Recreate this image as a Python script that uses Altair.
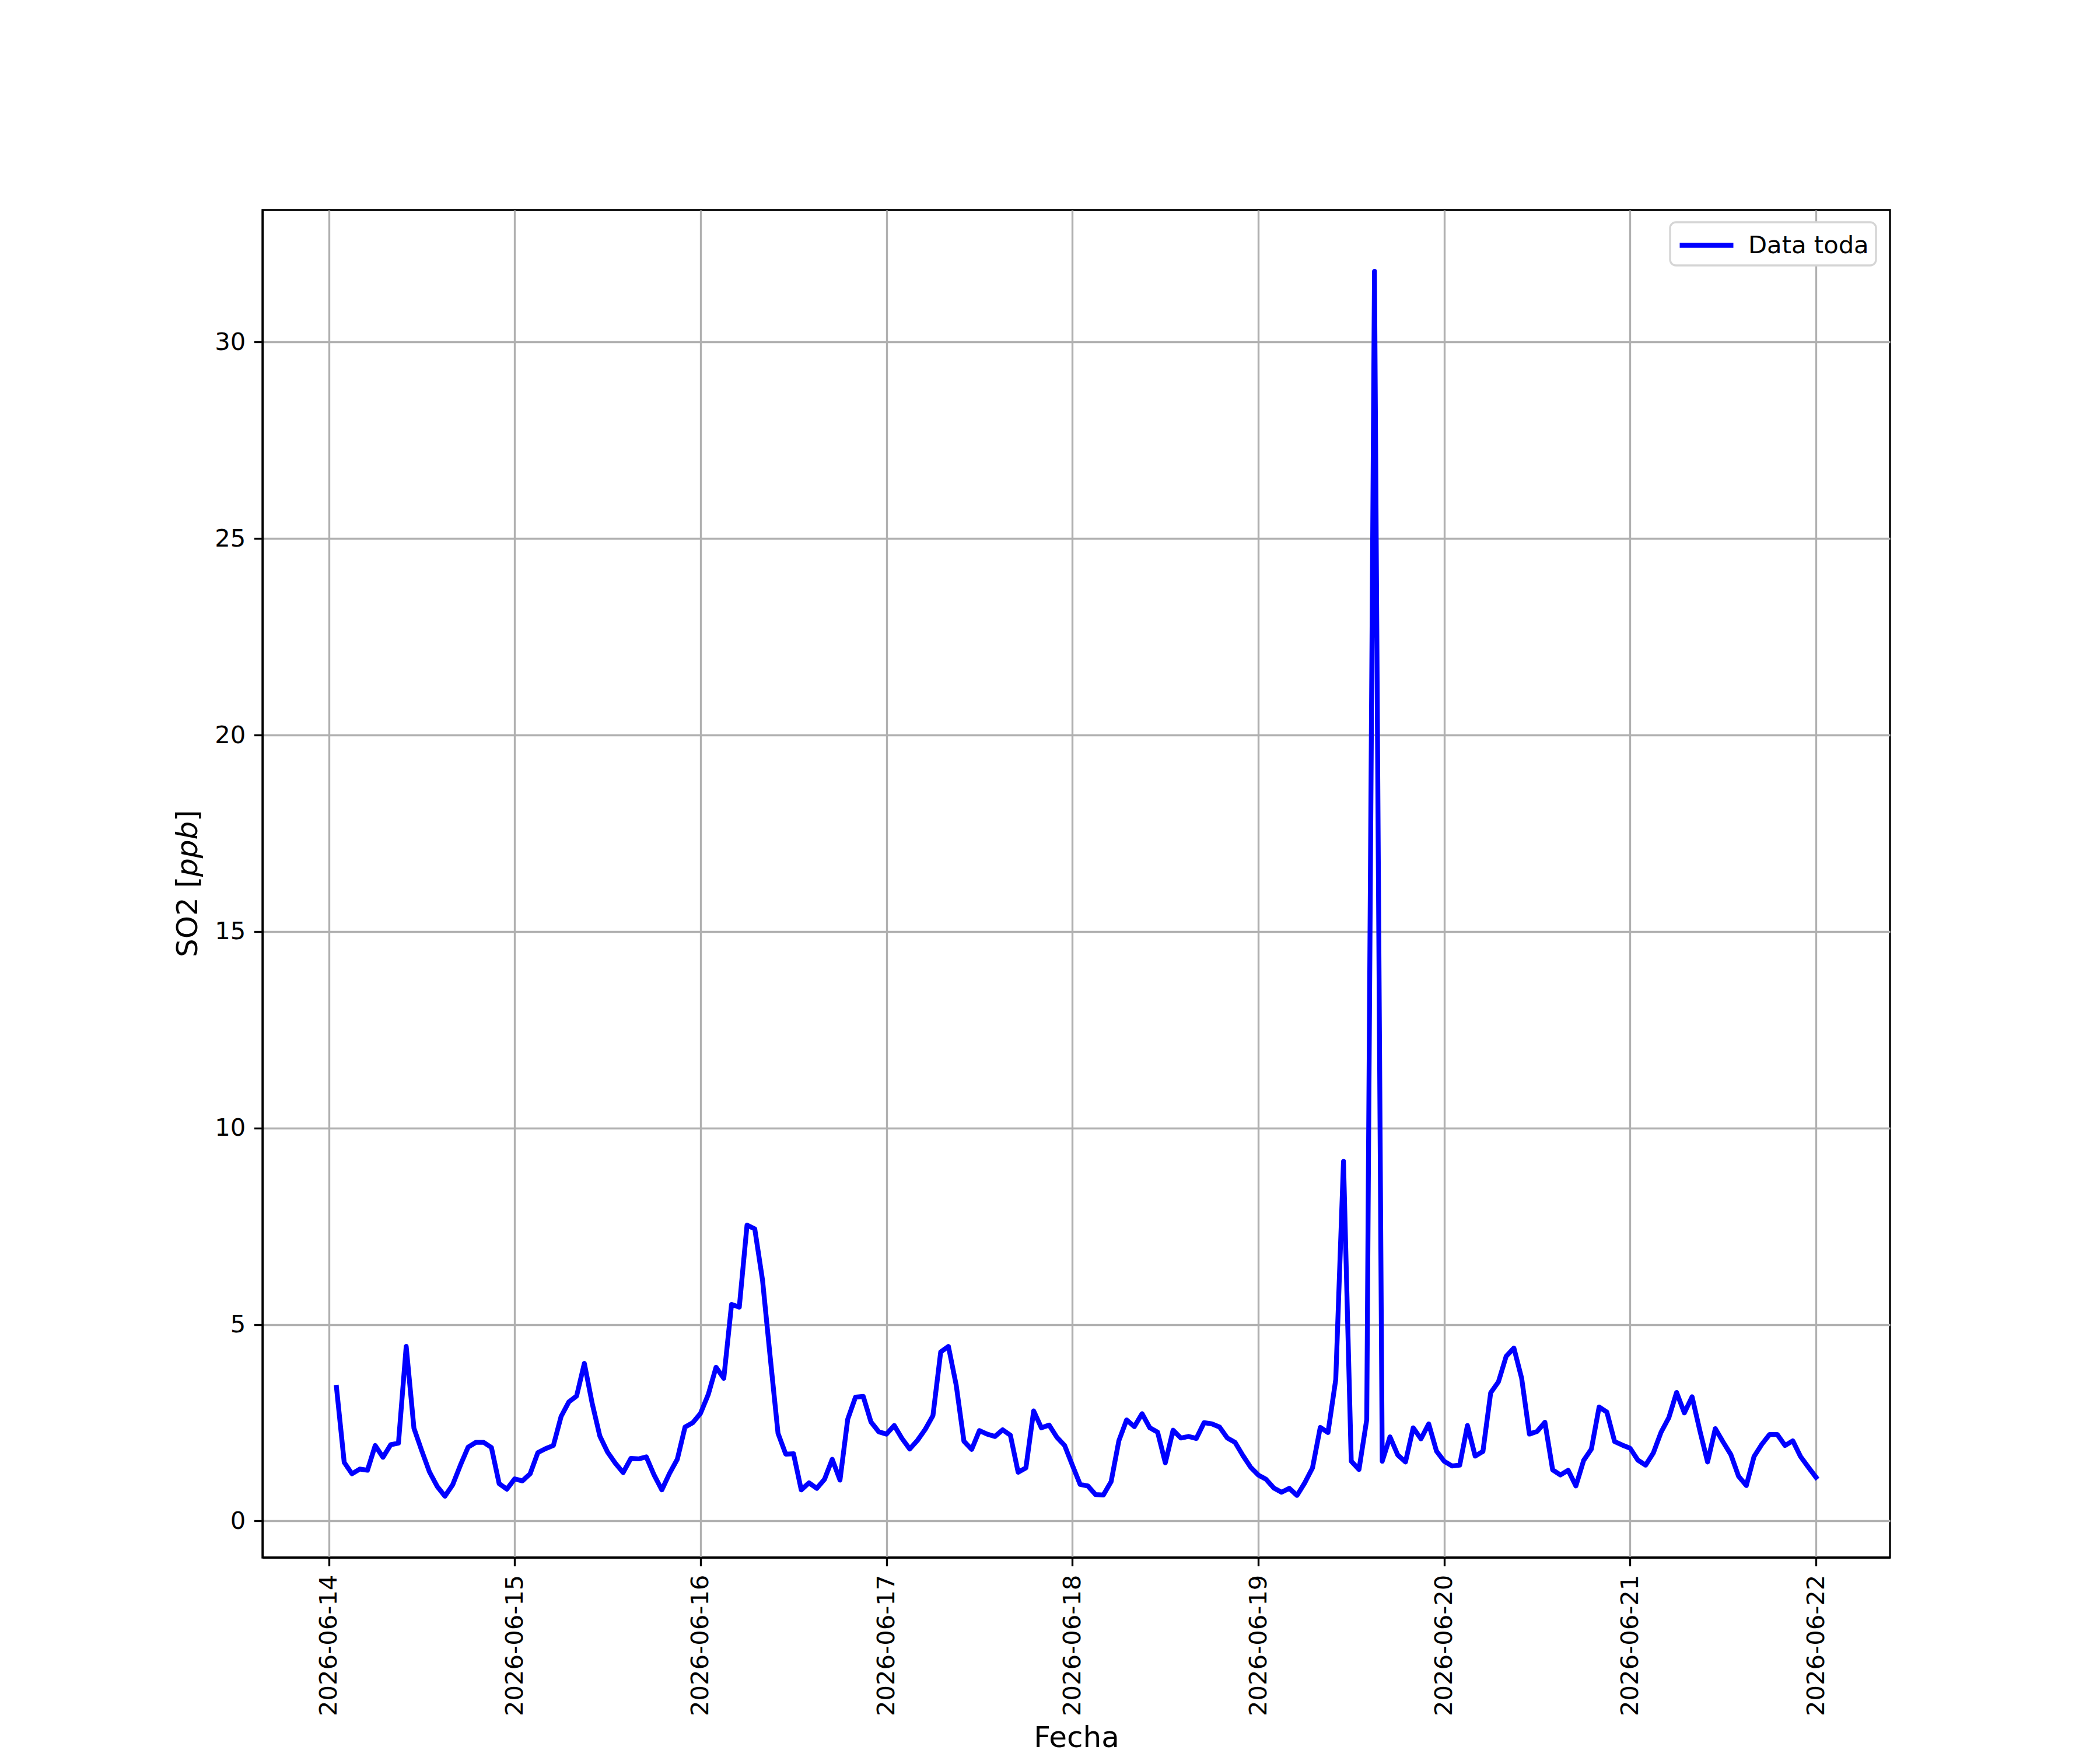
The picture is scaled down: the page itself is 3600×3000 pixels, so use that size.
import altair as alt
import pandas as pd

# SO2 hourly values [ppb], starting 2026-06-14 01:00
dia_14 = [3.40, 1.49, 1.20, 1.32, 1.29, 1.92, 1.62, 1.94, 1.98, 4.44, 2.36, 1.79,
          1.25, 0.88, 0.63, 0.92, 1.42, 1.88, 2.00, 2.00, 1.87, 0.95, 0.81]
dia_15 = [1.07, 1.02, 1.20, 1.74, 1.84, 1.92, 2.66, 3.03, 3.18, 4.01, 3.00, 2.16,
          1.75, 1.47, 1.23, 1.59, 1.58, 1.63, 1.17, 0.79, 1.21, 1.57, 2.39, 2.50]
dia_16 = [2.74, 3.22, 3.91, 3.63, 5.51, 5.44, 7.53, 7.43, 6.13, 4.15, 2.23, 1.70,
          1.71, 0.79, 0.97, 0.83, 1.06, 1.57, 1.04, 2.59, 3.15, 3.17, 2.52, 2.27]
dia_17 = [2.21, 2.43, 2.10, 1.83, 2.05, 2.33, 2.68, 4.30, 4.44, 3.46, 2.03, 1.82,
          2.30, 2.21, 2.15, 2.32, 2.18, 1.24, 1.35, 2.80, 2.37, 2.44, 2.13, 1.92]
dia_18 = [1.42, 0.93, 0.89, 0.67, 0.66, 1.00, 2.04, 2.57, 2.40, 2.73, 2.37, 2.26,
          1.48, 2.31, 2.11, 2.15, 2.10, 2.50, 2.47, 2.39, 2.11, 2.00, 1.67, 1.37]
dia_19 = [1.17, 1.06, 0.84, 0.73, 0.83, 0.65, 0.97, 1.35, 2.38, 2.25, 3.60, 9.15,
          1.52, 1.31, 2.58, 31.80, 1.52, 2.14, 1.68, 1.50, 2.37, 2.09, 2.47, 1.78]
dia_20 = [1.52, 1.40, 1.42, 2.43, 1.65, 1.77, 3.26, 3.54, 4.19, 4.40, 3.63, 2.21,
          2.28, 2.51, 1.30, 1.17, 1.29, 0.89, 1.54, 1.83, 2.90, 2.77, 2.02, 1.93]
dia_21 = [1.85, 1.55, 1.42, 1.73, 2.26, 2.63, 3.27, 2.75, 3.16, 2.30, 1.50, 2.35,
          2.01, 1.69, 1.14, 0.90, 1.64, 1.95, 2.20, 2.20, 1.92, 2.04, 1.64, 1.37]
dia_22 = [1.11]

so2 = dia_14 + dia_15 + dia_16 + dia_17 + dia_18 + dia_19 + dia_20 + dia_21 + dia_22
fechas = pd.date_range("2026-06-14 01:00", periods=len(so2), freq="h").strftime("%Y-%m-%dT%H:%M:%S").tolist()
serie = ["Data toda"] * len(so2)

y_ticks = [0, 5, 10, 15, 20, 25, 30]
x_tick_days = [14, 15, 16, 17, 18, 19, 20, 21, 22]

df = pd.DataFrame({"Fecha": fechas, "SO2": so2, "serie": serie})

F = "DejaVu Sans"
W, H = 2790, 2310

x_dom = [alt.DateTime(year=2026, month=6, date=13, hours=15, minutes=27),
         alt.DateTime(year=2026, month=6, date=22, hours=9, minutes=33)]

line = alt.Chart(df).mark_line(
    strokeWidth=8.3, strokeJoin="round", strokeCap="square"
).encode(
    x=alt.X("Fecha:T", title="Fecha",
            scale=alt.Scale(domain=x_dom, nice=False),
            axis=alt.Axis(values=[alt.DateTime(year=2026, month=6, date=d) for d in x_tick_days],
                          format="%Y-%m-%d", labelAngle=270, labelLimit=0,
                          titleY=324, titleBaseline="alphabetic")),
    y=alt.Y("SO2:Q", title=None,
            scale=alt.Scale(domain=[-0.93, 33.36], nice=False, zero=False),
            axis=alt.Axis(values=y_ticks, format="d", labelLimit=0)),
    color=alt.Color("serie:N", scale=alt.Scale(range=["#0000ff"]),
                    legend=alt.Legend(title=None, orient="none", legendX=2413, legendY=21,
                                      symbolType="M-1,0H3", symbolSize=2116,
                                      symbolStrokeWidth=8.3,
                                      labelFont=F, labelFontSize=41.7, labelColor="black",
                                      labelOffset=67, labelLimit=0, padding=12,
                                      fillColor="white", strokeColor="#d5d5d5",
                                      cornerRadius=10)),
)

lbl = alt.Data(values=[{"a": 1}])
common = dict(angle=270, align="left", baseline="alphabetic", font=F, fontSize=50, color="black")
t1 = alt.Chart(lbl).mark_text(text="SO2 [", **common).encode(x=alt.value(-112), y=alt.value(1281))
t2 = alt.Chart(lbl).mark_text(text="ppb", fontStyle="italic", **common).encode(x=alt.value(-112), y=alt.value(1143))
t3 = alt.Chart(lbl).mark_text(text="]", **common).encode(x=alt.value(-112), y=alt.value(1048))

chart = alt.layer(line, t1, t2, t3).properties(
    width=W, height=H,
    autosize=alt.AutoSizeParams(type="none"),
    padding={"left": 442, "top": 352, "right": 352, "bottom": 330},
    background="white",
).configure_view(
    stroke="black", strokeWidth=3.33
).configure_axis(
    domainColor="black", domainWidth=3.33,
    tickColor="black", tickWidth=3.33, tickSize=14.6,
    labelFont=F, labelFontSize=41.7, labelColor="black", labelPadding=14.6,
    labelFlush=False, labelOverlap=False, labelBound=False, labelLimit=0,
    grid=True, gridColor="#b0b0b0", gridWidth=3.33,
    titleFont=F, titleFontSize=50, titleFontWeight="normal", titleColor="black",
    titlePadding=16,
).configure_legend(
    strokeWidth=3.3, labelLimit=0
)

chart.save("out.html", embed_options={"renderer": "svg", "actions": False})
